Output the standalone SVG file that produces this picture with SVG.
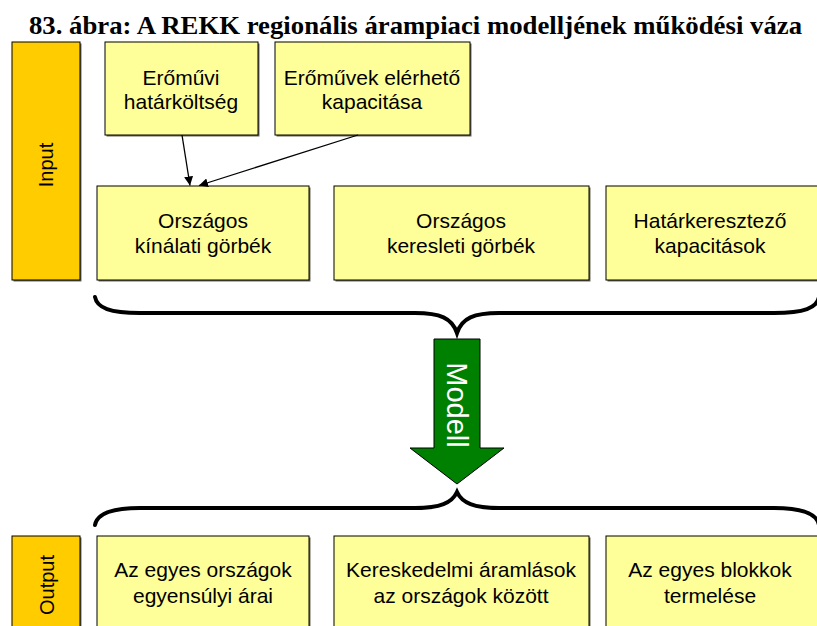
<svg xmlns="http://www.w3.org/2000/svg" width="817" height="626" viewBox="0 0 817 626">
  <style>
    .title { font-family: "Liberation Serif", "Times New Roman", serif; font-weight: bold; font-size: 26px; fill: #000; }
    .box { fill: #FFFF99; stroke: #000; stroke-width: 1; }
    .tag { fill: #FFCC00; stroke: #000; stroke-width: 1; }
    .shadow { fill: #6b6b5a; }
    .lbl { font-family: "Liberation Sans", Arial, sans-serif; font-size: 21px; fill: #000; text-anchor: middle; }
    .side { font-family: "Liberation Sans", Arial, sans-serif; font-size: 20px; fill: #000; text-anchor: middle; }
    .brace { fill: none; stroke: #000; stroke-width: 4; stroke-linecap: round; }
    .link { stroke: #000; stroke-width: 1.3; fill: none; }
  </style>
  <defs>
    <marker id="head" viewBox="0 0 10 10" refX="10" refY="5" markerWidth="9" markerHeight="9" markerUnits="userSpaceOnUse" orient="auto">
      <path d="M0,0 L10,5 L0,10 z" fill="#000"/>
    </marker>
  </defs>

  <rect width="817" height="626" fill="#fff"/>

  <text class="title" x="415.5" y="34" text-anchor="middle" textLength="773" lengthAdjust="spacingAndGlyphs">83. ábra: A REKK regionális árampiaci modelljének működési váza</text>

  <!-- Input side label -->
  <g id="input">
    <rect class="shadow" x="13.5" y="43.5" width="68" height="238"/>
    <rect class="tag" x="12" y="42" width="68" height="238"/>
    <text class="side" transform="translate(46,165) rotate(-90)" dy="0.35em">Input</text>
  </g>

  <!-- source data -->
  <g id="marginal-cost">
    <rect class="shadow" x="106.5" y="43.5" width="153" height="93"/>
    <rect class="box" x="105" y="42" width="153" height="93"/>
    <text class="lbl" x="181" y="85">Erőművi</text>
    <text class="lbl" x="181" y="109">határköltség</text>
  </g>
  <g id="available-capacity">
    <rect class="shadow" x="276.5" y="43.5" width="195" height="93"/>
    <rect class="box" x="275" y="42" width="195" height="93"/>
    <text class="lbl" x="372" y="85">Erőművek elérhető</text>
    <text class="lbl" x="372" y="109">kapacitása</text>
  </g>

  <!-- input curves -->
  <g id="supply-curves">
    <rect class="shadow" x="98.5" y="187.5" width="212" height="94"/>
    <rect class="box" x="97" y="186" width="212" height="94"/>
    <text class="lbl" x="203" y="228">Országos</text>
    <text class="lbl" x="203" y="253">kínálati görbék</text>
  </g>
  <g id="demand-curves">
    <rect class="shadow" x="335.5" y="187.5" width="255" height="94"/>
    <rect class="box" x="334" y="186" width="255" height="94"/>
    <text class="lbl" x="461" y="228">Országos</text>
    <text class="lbl" x="461" y="253">keresleti görbék</text>
  </g>
  <g id="cross-border">
    <rect class="shadow" x="607.5" y="187.5" width="212" height="94"/>
    <rect class="box" x="606" y="186" width="212" height="94"/>
    <text class="lbl" x="710" y="228">Határkeresztező</text>
    <text class="lbl" x="710" y="253">kapacitások</text>
  </g>

  <!-- connectors -->
  <g id="connectors">
    <line class="link" x1="182" y1="135" x2="190" y2="185.5" marker-end="url(#head)"/>
    <line class="link" x1="358" y1="135" x2="199" y2="185.5" marker-end="url(#head)"/>
    <path class="brace" d="M95,297 C97,308 110,313 140,313 L415,313 C440,313 452,318 457,333 C462,318 474,313 499,313 L774,313 C804,313 817,308 819,297"/>
    <path class="brace" d="M95,525 C97,514 110,508 140,508 L415,508 C440,508 452,503 457,492 C462,503 474,508 499,508 L774,508 C804,508 817,514 819,525"/>
  </g>

  <!-- model arrow -->
  <g id="model">
    <polygon points="434,339 480,339 480,448 504,448 457,484 410,448 434,448" fill="#008000" stroke="#000" stroke-width="1"/>
    <text transform="translate(457,405) rotate(90)" dy="0.36em" text-anchor="middle" font-family="Liberation Sans, Arial, sans-serif" font-size="29" fill="#fff">Modell</text>
  </g>

  <!-- Output side label -->
  <g id="output">
    <rect class="shadow" x="13.5" y="537.5" width="68" height="100"/>
    <rect class="tag" x="12" y="536" width="68" height="100"/>
    <text class="side" transform="translate(47,585) rotate(-90)" dy="0.35em">Output</text>
  </g>

  <!-- results -->
  <g id="prices">
    <rect class="shadow" x="98.5" y="537.5" width="212" height="100"/>
    <rect class="box" x="97" y="536" width="212" height="100"/>
    <text class="lbl" x="203" y="577">Az egyes országok</text>
    <text class="lbl" x="203" y="603">egyensúlyi árai</text>
  </g>
  <g id="trade-flows">
    <rect class="shadow" x="335.5" y="537.5" width="255" height="100"/>
    <rect class="box" x="334" y="536" width="255" height="100"/>
    <text class="lbl" x="461" y="577">Kereskedelmi áramlások</text>
    <text class="lbl" x="461" y="603">az országok között</text>
  </g>
  <g id="unit-output">
    <rect class="shadow" x="607.5" y="537.5" width="212" height="100"/>
    <rect class="box" x="606" y="536" width="212" height="100"/>
    <text class="lbl" x="710" y="577">Az egyes blokkok</text>
    <text class="lbl" x="710" y="603">termelése</text>
  </g>
</svg>
